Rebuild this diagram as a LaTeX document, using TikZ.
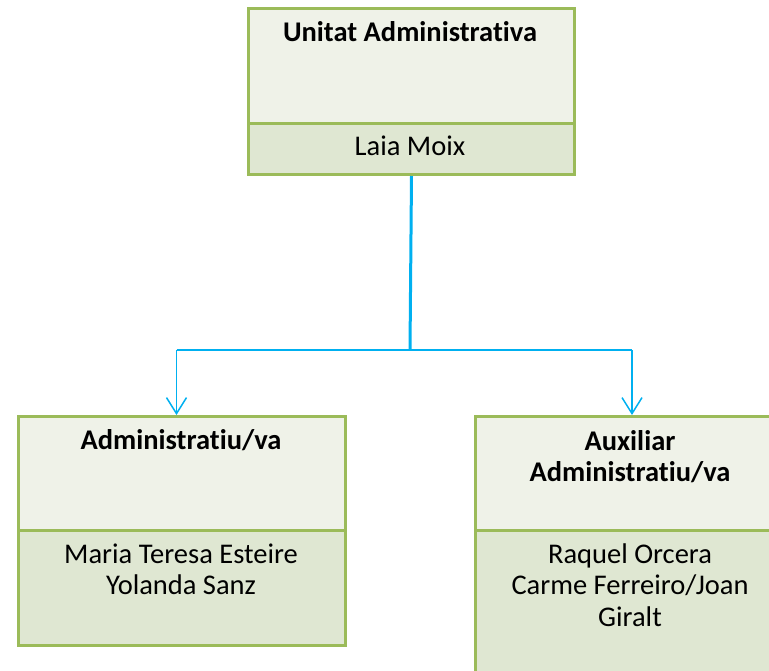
\documentclass[tikz,border=0pt]{standalone}
\usepackage{fontspec}
\setmainfont{Carlito}[Ligatures={NoCommon}]
\usetikzlibrary{arrows.meta}
\definecolor{boxline}{HTML}{9BBB59}
\definecolor{upfill}{HTML}{EFF2E8}
\definecolor{lowfill}{HTML}{DFE7D2}
\definecolor{conn}{HTML}{00B0F0}
\tikzset{
  upbox/.style={draw=boxline, fill=upfill, line width=3pt, anchor=north west, inner sep=0pt},
  lowbox/.style={draw=boxline, fill=lowfill, line width=3pt, anchor=north west, inner sep=0pt},
  txt/.style={anchor=base, inner sep=0pt, font=\fontsize{28.5}{31.5}\selectfont},
  btxt/.style={txt, font=\fontsize{28.5}{31.5}\selectfont\bfseries},
  trunk/.style={draw=conn, line width=3pt},
  hline/.style={draw=conn, line width=2pt},
  arr/.style={draw=conn, line width=1.5pt, -{Straight Barb[length=16pt, width=20pt, line width=1.5pt]}}
}
\begin{document}
\begin{tikzpicture}[x=1pt, y=-1pt]
\useasboundingbox (0,0) rectangle (769,670);
\clip (0,0) rectangle (769,670);
% top box
\node[lowbox, minimum width=326pt, minimum height=51pt] (tl) at (247,122) {};
\node[upbox, minimum width=326pt, minimum height=115pt] (tu) at (247,7) {};
\node[btxt] (tt) at (410,41) {Unitat Administrativa};
\node[txt] (tn) at (410,155) {Laia Moix};
% left box
\node[lowbox, minimum width=327pt, minimum height=115pt] (ll) at (17,529) {};
\node[upbox, minimum width=327pt, minimum height=114pt] (lu) at (17,415) {};
\node[btxt] (lt) at (181,449) {Administratiu/va};
\node[txt] (ln1) at (181,563) {Maria Teresa Esteire};
\node[txt] (ln2) at (181,594) {Yolanda Sanz};
% right box
\node[lowbox, minimum width=312pt, minimum height=171pt] (rl) at (474,529) {};
\node[upbox, minimum width=312pt, minimum height=114pt] (ru) at (474,415) {};
\node[btxt] (rt1) at (630,450) {Auxiliar};
\node[btxt] (rt2) at (630,481) {Administratiu/va};
\node[txt] (rn1) at (630,563) {Raquel Orcera};
\node[txt] (rn2) at (630,594) {Carme Ferreiro/Joan};
\node[txt] (rn3) at (630,626) {Giralt};
% connectors
\coordinate (j) at (410,350);
\coordinate (jl) at (176.5,350);
\coordinate (jr) at (632,350);
\draw[trunk] (tl.south) -- (j);
\draw[hline] (jl) -- (jr);
\draw[arr] (jl) -- (jl |- lu.north);
\draw[arr] (jr) -- (jr |- ru.north);
\end{tikzpicture}
\end{document}
